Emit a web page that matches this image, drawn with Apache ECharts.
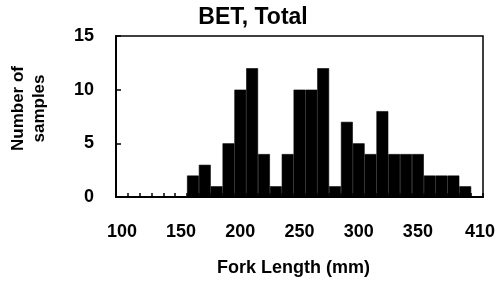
<!DOCTYPE html>
<html>
<head>
<meta charset="utf-8">
<script src="https://cdn.jsdelivr.net/npm/echarts@6/dist/echarts.min.js"></script>
<style>html,body{margin:0;padding:0;background:#fff}#c{width:500px;height:282px}</style>
</head>
<body>
<div id="c"></div>
<script>
// Bin starts (mm), 10 mm bins
const binStarts = [100,110,120,130,140,150,160,170,180,190,200,210,220,230,240,250,260,270,280,290,300,310,320,330,340,350,360,370,380,390,400];
// Number of samples per bin
const counts = [0,0,0,0,0,0,2,3,1,5,10,12,4,1,4,10,10,12,1,7,5,4,8,4,4,4,2,2,2,1,0];
// Tick labels shown every 5th bin
const xTickLabels = ['100','150','200','250','300','350','410'];
const yTicks = [0,5,10,15];

const FONT = 'Liberation Sans, Arial, sans-serif';
const chart = echarts.init(document.getElementById('c'), null, {renderer:'canvas'});
chart.setOption({
  animation:false,
  backgroundColor:'#fff',
  title:{text:'BET, Total',left:248,textAlign:'center',top:1,
    textStyle:{fontFamily:FONT,fontSize:23,fontWeight:'bold',color:'#000'}},
  grid:{left:110,right:17,top:36,bottom:82,show:true,borderColor:'#000',borderWidth:1.5,backgroundColor:'transparent'},
  xAxis:{type:'category',data:binStarts.map(String),
    name:'Fork Length (mm)',nameLocation:'middle',nameGap:62,
    nameTextStyle:{fontFamily:FONT,fontSize:18,fontWeight:'bold',color:'#000',padding:[0,12,0,0]},
    axisLine:{lineStyle:{color:'#000',width:2}},
    axisTick:{show:true,inside:true,length:4,interval:0,lineStyle:{color:'#000',width:1.5}},
    axisLabel:{interval:0,margin:26,fontFamily:FONT,fontSize:18,fontWeight:'bold',color:'#000',
      formatter:(v,i)=> (i%5===0 ? (i===30 ? '{last|'+xTickLabels[i/5]+'}' : xTickLabels[i/5]) : ''),
      rich:{last:{fontFamily:FONT,fontSize:18,fontWeight:'bold',color:'#000',padding:[0,0,0,6]}}},
    splitLine:{show:false}},
  yAxis:{type:'value',min:yTicks[0],max:yTicks[yTicks.length-1],interval:5,
    name:'Number of\nsamples',nameLocation:'middle',nameGap:66,nameRotate:90,
    nameTextStyle:{fontFamily:FONT,fontSize:17,fontWeight:'bold',color:'#000',lineHeight:21,padding:[0,0,0,16]},
    axisLine:{show:true,lineStyle:{color:'#000',width:2}},
    axisTick:{show:true,inside:true,length:5,lineStyle:{color:'#000',width:1.5}},
    axisLabel:{margin:22,fontFamily:FONT,fontSize:18,fontWeight:'bold',color:'#000'},
    splitLine:{show:false}},
  series:[{type:'bar',data:counts,barCategoryGap:'0%',barGap:'0%',
    itemStyle:{color:'#000',borderColor:'#000',borderWidth:0.6},z:2}]
});
</script>
</body>
</html>
